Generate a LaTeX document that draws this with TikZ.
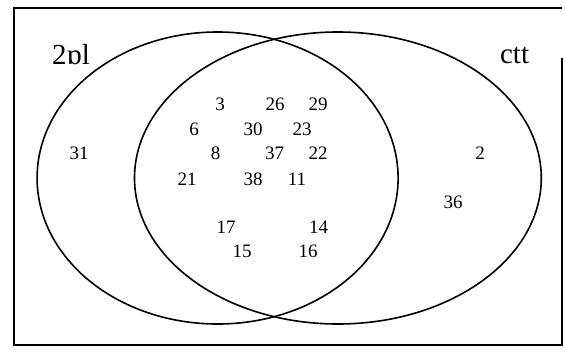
\documentclass[tikz,border=0pt]{standalone}
\usepackage{fontspec}
\setmainfont{Liberation Serif}
\begin{document}
\begin{tikzpicture}[x=1pt,y=-1pt,
  num/.style={font=\fontsize{19}{19}\selectfont, inner sep=0pt},
  setlabel/.style={font=\fontsize{29}{29}\selectfont, inner sep=0pt},
  outline/.style={line width=1.6pt, black}]
\useasboundingbox (0,0) rectangle (565,351);
% frame (gap at top of right edge)
\draw[line width=1.3pt] (562,58) -- (562,345) -- (14,345) -- (14,8) -- (562,8);
% sets
\draw[outline] (217.6,178) ellipse [x radius=180.5, y radius=146];
\draw[outline] (337.9,178) ellipse [x radius=203.4, y radius=146];
% set labels
\node[setlabel] (lA) at (71,55) {2ɒl};
\node[setlabel] (lB) at (514.6,55) {ctt};
% elements
\node[num] (n3)  at (220,104) {3};
\node[num] (n26) at (275,104) {26};
\node[num] (n29) at (318,104) {29};
\node[num] (n6)  at (194,129) {6};
\node[num] (n30) at (253,129) {30};
\node[num] (n23) at (302,129) {23};
\node[num] (n31) at (79,153) {31};
\node[num] (n8)  at (215.5,153) {8};
\node[num] (n37) at (274.6,153) {37};
\node[num] (n22) at (318,153) {22};
\node[num] (n2)  at (480,153) {2};
\node[num] (n21) at (187,179) {21};
\node[num] (n38) at (253,179) {38};
\node[num] (n11) at (297,179) {11};
\node[num] (n36) at (453,202) {36};
\node[num] (n17) at (226,227) {17};
\node[num] (n14) at (318.6,227) {14};
\node[num] (n15) at (242,251.5) {15};
\node[num] (n16) at (308,251.5) {16};
\end{tikzpicture}
\end{document}
